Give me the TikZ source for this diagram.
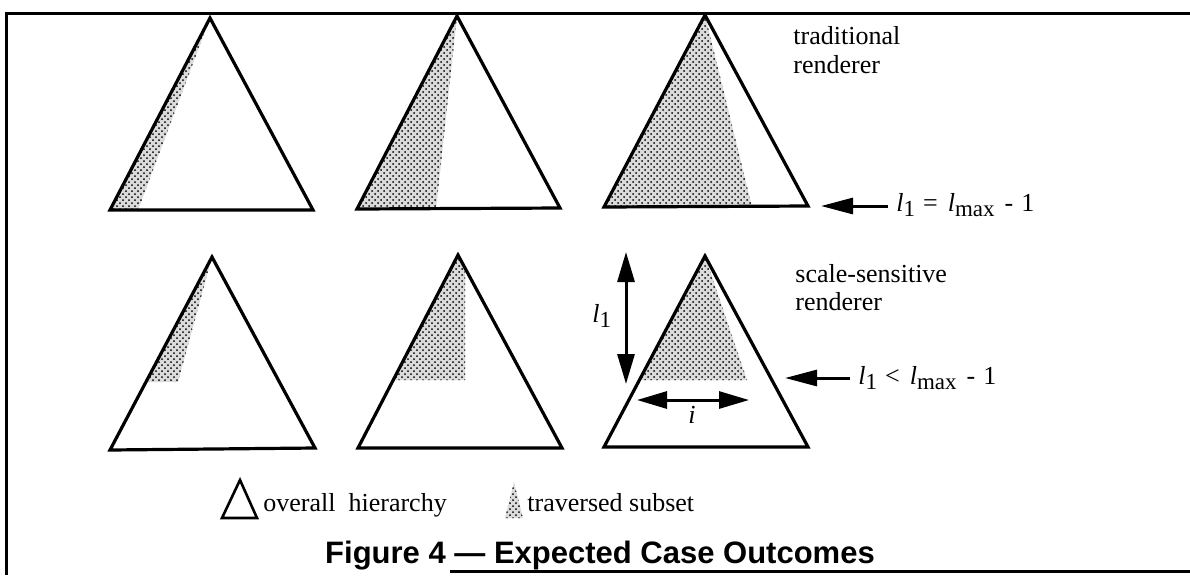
\documentclass[tikz,border=0pt]{standalone}
\usepackage{fontspec}
\setmainfont{Liberation Serif}
\newfontfamily\captionfont{Liberation Sans}
\usetikzlibrary{arrows.meta, patterns, positioning}

% italic level variable with a dropped index
\newcommand{\lvar}[1]{\textit{l}\raisebox{-0.45ex}{\fontsize{11.5}{11.5}\selectfont #1}}

\begin{document}
\begin{tikzpicture}[
    x=0.5pt, y=-0.5pt,
    tri/.style={draw, line width=1.6pt, line join=miter},
    traversed/.style={preaction={fill=gray!28}, pattern=crosshatch dots, pattern color=black},
    txt/.style={font=\fontsize{13}{14.5}\selectfont, inner sep=0pt},
    pointer/.style={line width=1.5pt, -{Triangle[length=16pt, width=8pt]}},
    span/.style={line width=1.5pt, {Triangle[length=15pt, width=8.5pt]}-{Triangle[length=15pt, width=8.5pt]}},
]
\useasboundingbox (0,0) rectangle (1190,575);

% Frame
\draw[line width=1.5pt] (1190,13) -- (6,13) -- (6,575);
\draw[line width=1.5pt] (450,571) -- (1190,571);

% Row 1: traditional renderer
\fill[traversed] (210,18) -- (110,210) -- (138,210) -- cycle;
\draw[tri] (110,210) -- (210,18) -- (313,210) -- cycle;
\fill[traversed] (457,16) -- (357,209) -- (436,209) -- cycle;
\draw[tri] (357,209) -- (457,16) -- (560,208) -- cycle;
\fill[traversed] (705,15) -- (604,207) -- (752,207) -- cycle;
\draw[tri] (604,207) -- (705,15) -- (808,206) -- cycle;

\node[txt, align=left, anchor=base west] (tradlabel) at (793,73) {traditional\\renderer};
\coordinate (tradtail) at (888,206);
\coordinate (tradtip) at (821,206);
\draw[pointer] (tradtail) -- (tradtip);
\node[txt, anchor=base west] (tradeq) at (896,211)
    {\lvar{1}\hspace{4pt}=\hspace{5pt}\lvar{max}\hspace{5pt}-\hspace{4pt}1};

% Row 2: scale-sensitive renderer
\fill[traversed] (212,257) -- (146,382) -- (178,382) -- cycle;
\draw[tri] (110,450) -- (212,257) -- (315,448) -- cycle;
\fill[traversed] (458,255) -- (393,380) -- (465,380) -- (465,268) -- cycle;
\draw[tri] (358,448) -- (458,255) -- (562,448) -- cycle;
\fill[traversed] (705,256) -- (639,380) -- (747,380) -- cycle;
\draw[tri] (604,447) -- (705,256) -- (808,447) -- cycle;

\coordinate (ltop) at (626,252);
\coordinate (lbot) at (626,384);
\draw[span] (ltop) -- (lbot);
\node[txt, anchor=base west] (lname) at (592,322) {\lvar{1}};
\coordinate (ileft) at (637,400);
\coordinate (iright) at (749,400);
\draw[span] (ileft) -- (iright);
\node[txt, anchor=base] (iname) at (692,423) {\textit{i}};

\node[txt, align=left, anchor=base west, font=\fontsize{13}{14}\selectfont] (scalelabel) at (795,310) {scale-sensitive\\renderer};
\coordinate (scaletail) at (850,378);
\coordinate (scaletip) at (785,378);
\draw[pointer] (scaletail) -- (scaletip);
\node[txt, anchor=base west] (scaleeq) at (858,384)
    {\lvar{1}\hspace{4pt}<\hspace{5pt}\lvar{max}\hspace{5pt}-\hspace{4pt}1};

% Legend
\draw[tri, line width=1.3pt] (222,518) -- (240,480) -- (257,518) -- cycle;
\node[txt, anchor=base west] (overall) at (263,511) {overall\ \ hierarchy};
\fill[traversed] (505,518) -- (514,482) -- (523,518) -- cycle;
\node[txt, anchor=base west] (subset) at (527,511) {traversed subset};

% Caption
\node[font=\captionfont\bfseries\fontsize{15.5}{15.5}\selectfont, inner sep=0pt, anchor=base] (caption) at (600,563)
    {Figure 4 — Expected Case Outcomes};
\end{tikzpicture}
\end{document}
